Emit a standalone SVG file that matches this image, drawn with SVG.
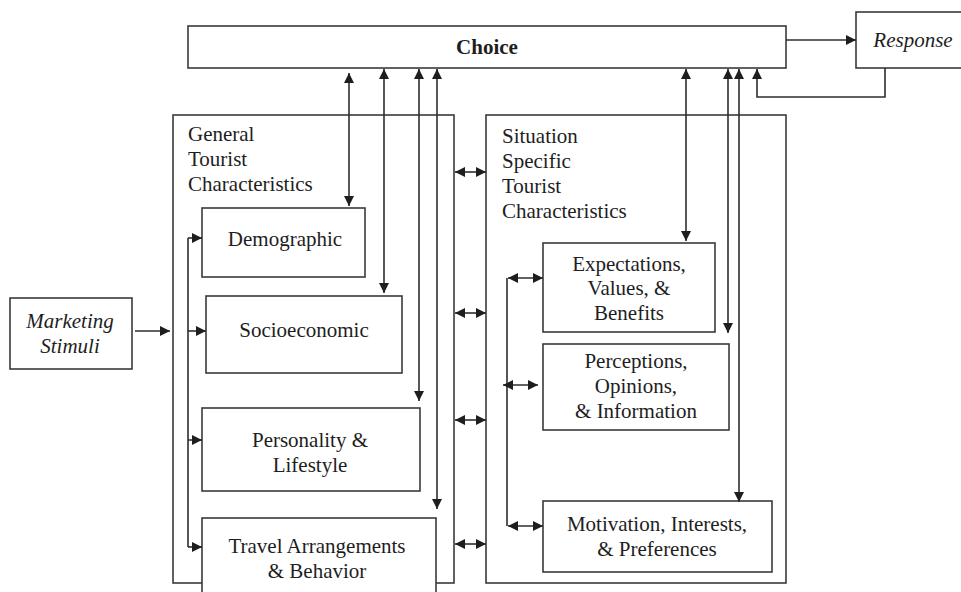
<svg xmlns="http://www.w3.org/2000/svg" width="961" height="592" viewBox="0 0 961 592">
<defs>
<style>
.box{fill:#fff;stroke:#3a3a3a;stroke-width:1.6}
.t{font-size:21px;fill:#1e1e1e}
.c{text-anchor:middle}
.i{font-style:italic}
.b{font-weight:bold}
.ln{fill:none;stroke:#2e2e2e;stroke-width:1.6}
.e{marker-end:url(#ah)}
.d{marker-end:url(#ah);marker-start:url(#ah)}
.se{marker-end:url(#sh)}
.sd{marker-end:url(#sh);marker-start:url(#sh)}
</style>
<marker id="ah" viewBox="0 0 10 10" refX="10" refY="5" markerWidth="12" markerHeight="10" markerUnits="userSpaceOnUse" orient="auto-start-reverse">
<path d="M0,0 L10,5 L0,10 Z" fill="#1e1e1e"/>
</marker>
<marker id="sh" viewBox="0 0 10 10" refX="10" refY="5" markerWidth="11" markerHeight="10" markerUnits="userSpaceOnUse" orient="auto-start-reverse">
<path d="M0,0 L10,5 L0,10 Z" fill="#1e1e1e"/>
</marker>
</defs>
<rect width="961" height="592" fill="#fff"/>
<g font-family="Liberation Serif, Times New Roman, DejaVu Serif, serif">
<g id="general">
<rect class="box" x="173" y="115" width="281" height="468"/>
<text class="t" x="188" y="141">General</text>
<text class="t" x="188" y="166">Tourist</text>
<text class="t" x="188" y="191">Characteristics</text>
</g>
<g id="situation">
<rect class="box" x="486" y="115" width="300" height="468"/>
<text class="t" x="502" y="143">Situation</text>
<text class="t" x="502" y="168">Specific</text>
<text class="t" x="502" y="193">Tourist</text>
<text class="t" x="502" y="218">Characteristics</text>
</g>
<g id="choice">
<rect class="box" x="188" y="26" width="598" height="42"/>
<text class="t c b" x="487" y="54">Choice</text>
</g>
<g id="response">
<rect class="box" x="856" y="12" width="106" height="56"/>
<text class="t c i" x="913" y="47">Response</text>
</g>
<g id="marketing">
<rect class="box" x="10" y="298" width="122" height="71"/>
<text class="t c i" x="70" y="328">Marketing</text>
<text class="t c i" x="70" y="353">Stimuli</text>
</g>
<g id="demographic">
<rect class="box" x="202" y="208" width="163" height="69"/>
<text class="t c" x="285" y="246">Demographic</text>
</g>
<g id="socioeconomic">
<rect class="box" x="206" y="296" width="196" height="77"/>
<text class="t c" x="304" y="337">Socioeconomic</text>
</g>
<g id="personality">
<rect class="box" x="202" y="408" width="218" height="83"/>
<text class="t c" x="310" y="447">Personality &amp;</text>
<text class="t c" x="310" y="472">Lifestyle</text>
</g>
<g id="travel">
<rect class="box" x="202" y="518" width="234" height="80"/>
<text class="t c" x="317" y="553">Travel Arrangements</text>
<text class="t c" x="317" y="578">&amp; Behavior</text>
</g>
<g id="expectations">
<rect class="box" x="543" y="243" width="172" height="89"/>
<text class="t c" x="629" y="271">Expectations,</text>
<text class="t c" x="629" y="295">Values, &amp;</text>
<text class="t c" x="629" y="320">Benefits</text>
</g>
<g id="perceptions">
<rect class="box" x="543" y="344" width="186" height="86"/>
<text class="t c" x="636" y="368">Perceptions,</text>
<text class="t c" x="636" y="393">Opinions,</text>
<text class="t c" x="636" y="418">&amp; Information</text>
</g>
<g id="motivation">
<rect class="box" x="543" y="501" width="229" height="71"/>
<text class="t c" x="657" y="531">Motivation, Interests,</text>
<text class="t c" x="657" y="556">&amp; Preferences</text>
</g>
</g>
<g id="connectors">
<path class="ln e" d="M786,40 H856"/>
<path class="ln e" d="M885,68 V97 H757 V69"/>
<path class="ln d" d="M349,73 V206"/>
<path class="ln d" d="M384,69 V293"/>
<path class="ln d" d="M419,69 V401"/>
<path class="ln d" d="M437,69 V509"/>
<path class="ln d" d="M686,69 V241"/>
<path class="ln d" d="M728,69 V333"/>
<path class="ln d" d="M739,69 V502"/>
<path class="ln e" d="M135,331 H170"/>
<path class="ln" d="M188,238 V547"/>
<path class="ln se" d="M188,238 H202"/>
<path class="ln se" d="M188,331 H206"/>
<path class="ln se" d="M188,440 H202"/>
<path class="ln se" d="M188,547 H202"/>
<path class="ln sd" d="M455,172 H486"/>
<path class="ln sd" d="M455,313 H486"/>
<path class="ln sd" d="M455,420 H486"/>
<path class="ln sd" d="M455,544 H486"/>
<path class="ln" d="M507,278 V526"/>
<path class="ln sd" d="M508,278 H543"/>
<path class="ln sd" d="M503,385 H538"/>
<path class="ln sd" d="M508,526 H543"/>
</g>
</svg>
